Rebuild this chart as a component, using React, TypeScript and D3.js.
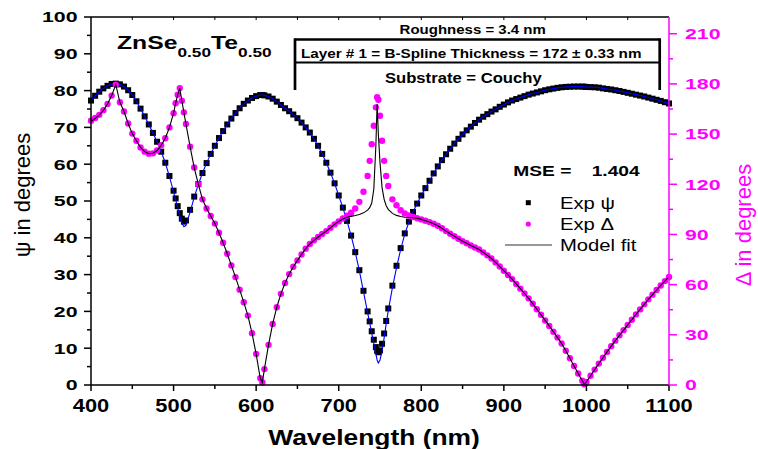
import React from 'react';
import * as d3 from 'd3';

// Wavelength grid (nm)
const WAVELENGTH = [
  400, 405, 410, 415, 420, 425, 430, 435, 440, 445, 450, 455, 460, 465, 470, 475, 480, 485, 490, 495, 500,
  502.5, 505, 507.5, 510, 512.5, 515,
  520, 525, 530, 535, 540, 545, 550, 555, 560, 565, 570, 575, 580, 585, 590, 595, 600, 605,
  607.5,
  610, 615, 620, 625, 630, 635, 640, 645, 650, 655, 660, 665, 670, 675, 680, 685, 690, 695, 700, 705, 710, 715, 720, 725, 730, 735,
  737.5, 740, 742.5, 745, 746.5, 748, 750, 752.5, 755, 757.5, 760,
  765, 770, 775, 780, 785, 790, 795, 800,
  805, 810, 815, 820, 825, 830, 835, 840, 845, 850,
  855, 860, 865, 870, 875, 880, 885, 890, 895, 900,
  905, 910, 915, 920, 925, 930, 935, 940, 945, 950,
  955, 960, 965, 970, 975, 980, 985, 990, 995,
  997.5,
  1000, 1005, 1010, 1015, 1020, 1025, 1030, 1035, 1040, 1045, 1050, 1055, 1060, 1065, 1070, 1075, 1080, 1085, 1090, 1095, 1100,
];

// Experimental psi (deg)
const PSI_EXP = [
  77.3, 78.6, 79.7, 80.6, 81.3, 81.8, 81.9, 81.7, 81.1, 80.1, 78.8, 77.1, 75.1, 73, 70.8, 68.5, 66.1, 63.4, 60.4, 56.8, 52.8,
  50.7, 48.6, 46.7, 45.2, 44.4, 44.7,
  47.6, 51.2, 54.6, 57.6, 60.3, 62.8, 65, 67.1, 69, 70.8, 72.4, 73.9, 75.2, 76.4, 77.3, 78, 78.5, 78.8,
  78.8,
  78.7, 78.4, 77.8, 77, 76.1, 75.2, 74.4, 73.5, 72.5, 71.3, 70, 68.6, 66.9, 65, 62.8, 60.4, 57.7, 54.8, 51.5, 48.2, 44.6, 40.6, 36.1, 31.2, 25.6, 20,
  17.3, 14.6, 12.3, 10.3, 9.3, 8.9, 9.4, 11.2, 14, 17.4, 20.8,
  27, 32.4, 37.2, 41.2, 44.4, 47, 49.3, 51.5,
  53.5, 55.5, 57.5, 59.4, 61.1, 62.7, 64.2, 65.6, 66.9, 68.1,
  69.2, 70.2, 71.2, 72.1, 72.9, 73.6, 74.3, 74.9, 75.6, 76.2,
  76.8, 77.3, 77.7, 78.1, 78.5, 78.9, 79.2, 79.5, 79.8, 80.1,
  80.35, 80.55, 80.75, 80.9, 81, 81.05, 81.1, 81.1, 81.1,
  81.05,
  81, 80.95, 80.9, 80.8, 80.6, 80.45, 80.3, 80.1, 79.9, 79.65, 79.4, 79.15, 78.9, 78.65, 78.4, 78.1, 77.8, 77.5, 77.2, 76.85, 76.5,
];

// Model psi (deg)
const PSI_FIT = [
  77.3, 78.6, 79.7, 80.6, 81.3, 81.8, 81.9, 81.7, 81.1, 80.1, 78.8, 77.1, 75.1, 73, 70.8, 68.5, 66.1, 63.4, 60.4, 56.6, 52.5,
  50.4, 48.2, 45.9, 44, 43, 43.4,
  47, 51, 54.5, 57.6, 60.3, 62.8, 65, 67.1, 69, 70.8, 72.4, 73.9, 75.2, 76.4, 77.3, 78, 78.5, 78.8,
  78.8,
  78.7, 78.4, 77.8, 77, 76.1, 75.2, 74.4, 73.5, 72.5, 71.3, 70, 68.6, 66.9, 65, 62.8, 60.4, 57.7, 54.8, 51.5, 48.2, 44.6, 40.6, 36.1, 31.1, 25.4, 19.6,
  17, 14, 11.3, 8.6, 6.8, 6, 6.8, 9.2, 12.8, 16.6, 20.2,
  26.4, 31.9, 36.8, 41, 44.3, 47, 49.3, 51.5,
  53.5, 55.5, 57.5, 59.4, 61.1, 62.7, 64.2, 65.6, 66.9, 68.1,
  69.2, 70.2, 71.2, 72.1, 72.9, 73.6, 74.3, 74.9, 75.6, 76.2,
  76.8, 77.3, 77.7, 78.1, 78.5, 78.9, 79.2, 79.5, 79.8, 80.1,
  80.35, 80.55, 80.75, 80.9, 81, 81.05, 81.1, 81.1, 81.1,
  81.05,
  81, 80.95, 80.9, 80.8, 80.6, 80.45, 80.3, 80.1, 79.9, 79.65, 79.4, 79.15, 78.9, 78.65, 78.4, 78.1, 77.8, 77.5, 77.2, 76.85, 76.5,
];

// Experimental delta (deg)
const DELTA_EXP = [
  158, 159.6, 161.5, 164.3, 168, 173, 179.5, 169, 163.5, 156.3, 150.3, 146, 142, 139.5, 138.3, 138.5, 140.2, 143.3, 147.5, 154, 162.5,
  168.5, 173.5, 177.5, 170, 163, 156,
  142.5, 130, 120, 111, 105.5, 101, 96.5, 91, 85, 78.5, 71.5, 64.5, 57, 49.5, 41.5, 31, 18.5, 4,
  1.5,
  9.5, 24, 36.5, 46.5, 54.5, 61, 66.3, 70.7, 74.5, 78, 81.5, 84.3, 86.5, 88.5, 90.3, 92, 94, 96, 97.8, 99.5, 101.2, 103, 105.5, 109.5, 115.5, 125,
  134, 144, 155, 166, 172, 170.5, 161, 146, 134, 125, 119,
  111, 107.5, 104.5, 102.6, 101.3, 100.4, 99.7, 99,
  98.2, 97.4, 96.4, 95.2, 93.7, 92, 90.4, 89, 87.4, 86,
  84.7, 83.4, 82.2, 81, 79.3, 77.5, 75.6, 73.3, 70.8, 68.3,
  65.8, 63.3, 60.4, 57.6, 54.7, 51.8, 48.6, 45.3, 42, 38.6,
  35.3, 31.8, 28.4, 24.8, 20.5, 16, 11.4, 6.9, 2.5,
  0.4,
  1.8, 5.5, 9.2, 12.8, 16.3, 19.8, 23.2, 26.5, 29.7, 32.8, 35.9, 39, 42.2, 45.2, 48.2, 51.2, 54, 56.8, 59.5, 62.1, 64.6,
];

// Model delta (deg)
const DELTA_FIT = [
  157.5, 159.3, 161.3, 164.2, 168, 173, 179.5, 169, 163.5, 156.3, 150.3, 146, 142, 139.5, 138.3, 138.5, 140.2, 143.3, 147.5, 154, 162.5,
  168.5, 173.5, 177.5, 170, 163, 156,
  142.5, 130, 120, 111, 105.5, 101, 96.5, 91, 85, 78.5, 71.5, 64.5, 57, 49.5, 41.5, 31, 18.5, 4,
  1.5,
  9.5, 24, 36.5, 46.5, 54.5, 61, 66.3, 70.7, 74.5, 78, 81.5, 84.3, 86.5, 88.5, 90.3, 92, 94, 96, 97.8, 99.3, 100.3, 100.8, 101.3, 101.9, 102.9, 104.5,
  106, 108.8, 117, 143, 168, 150, 133, 118, 111, 107.2, 105,
  102.6, 101.4, 100.7, 100.3, 100.1, 100, 99.7, 99,
  98.2, 97.4, 96.4, 95.2, 93.7, 92, 90.4, 89, 87.4, 86,
  84.7, 83.4, 82.2, 81, 79.3, 77.5, 75.6, 73.3, 70.8, 68.3,
  65.8, 63.3, 60.4, 57.6, 54.7, 51.8, 48.6, 45.3, 42, 38.6,
  35.3, 31.8, 28.4, 24.8, 20.5, 16, 11.4, 6.9, 2.5,
  0.4,
  1.8, 5.5, 9.2, 12.8, 16.3, 19.8, 23.2, 26.5, 29.7, 32.8, 35.9, 39, 42.2, 45.2, 48.2, 51.2, 54, 56.8, 59.5, 62.1, 64.6,
];

const X_TICKS = [400, 500, 600, 700, 800, 900, 1000, 1100];
const X_MINOR = [450, 550, 650, 750, 850, 950, 1050];
const PSI_TICKS = [0, 10, 20, 30, 40, 50, 60, 70, 80, 90, 100];
const DELTA_TICKS = [0, 30, 60, 90, 120, 150, 180, 210];

const FONT = "'Liberation Sans', Arial, Helvetica, sans-serif";
const MAGENTA = '#ff00ff';

function SText({ x, y, sx = 1, size, bold = true, anchor = 'start', fill = '#000', rotate = 0, children }: any) {
  const t = `translate(${x},${y})${rotate ? ` rotate(${rotate})` : ''} scale(${sx},1)`;
  return (
    <text transform={t} fontFamily={FONT} fontSize={size} fontWeight={bold ? 'bold' : 'normal'} textAnchor={anchor} fill={fill}>
      {children}
    </text>
  );
}

export default function App() {
  const W = 758, H = 449;
  const x = d3.scaleLinear().domain([400, 1100]).range([91, 669]);
  const yL = d3.scaleLinear().domain([0, 100]).range([385, 17]);
  const yR = d3.scaleLinear().domain([0, 220]).range([385, 17]);

  const psiExp = WAVELENGTH.map((w, i) => [w, PSI_EXP[i]]);
  const psiFit = WAVELENGTH.map((w, i) => [w, PSI_FIT[i]]);
  const dExp = WAVELENGTH.map((w, i) => [w, DELTA_EXP[i]]);
  const dFit = WAVELENGTH.map((w, i) => [w, DELTA_FIT[i]]);

  const linePsi = d3.line<number[]>().x(d => x(d[0])).y(d => yL(d[1]));
  const lineDelta = d3.line<number[]>().x(d => x(d[0])).y(d => yR(d[1]));

  const left = x(400), right = x(1100), top = yL(100), bottom = yL(0);
  const psiMinor = d3.range(5, 100, 10);
  const deltaMinor = d3.range(15, 220, 30);
  const topTicks = d3.range(450, 1100, 50);
  const sq = 6;

  return (
    <svg width={W} height={H} style={{ position: 'absolute', left: 0, top: 0, background: '#fff' }}>
      <rect x={0} y={0} width={W} height={H} fill="#fff" />

      {/* psi data squares */}
      <g fill="#000">
        {psiExp.map((d, i) => (
          <rect key={i} x={x(d[0]) - sq / 2} y={yL(d[1]) - sq / 2} width={sq} height={sq} />
        ))}
      </g>
      <path d={linePsi(psiFit) || ''} fill="none" stroke="#0000ff" strokeWidth={1.1} />

      {/* delta data dots */}
      <g fill={MAGENTA}>
        {dExp.map((d, i) => (
          <circle key={i} cx={x(d[0])} cy={yR(d[1])} r={3.2} />
        ))}
      </g>
      <path d={lineDelta(dFit) || ''} fill="none" stroke="#000" strokeWidth={1.1} />

      {/* axes frame */}
      <line x1={left} y1={top} x2={right} y2={top} stroke="#000" strokeWidth={1.5} />
      <line x1={left} y1={bottom} x2={right} y2={bottom} stroke="#000" strokeWidth={1.5} />
      <line x1={left} y1={top} x2={left} y2={bottom} stroke="#000" strokeWidth={1.5} />
      <line x1={right} y1={top} x2={right} y2={bottom} stroke={MAGENTA} strokeWidth={1.5} />

      {/* top ticks */}
      {topTicks.map(t => (
        <line key={'tt' + t} x1={x(t)} y1={top} x2={x(t)} y2={top + 3} stroke="#000" strokeWidth={1} />
      ))}

      {/* bottom ticks */}
      {X_TICKS.map(t => (
        <g key={'x' + t}>
          <line x1={x(t)} y1={bottom} x2={x(t)} y2={bottom + 6} stroke="#000" strokeWidth={1.5} />
          <SText x={x(t)} y={411.5} size={17.5} sx={1.25} anchor="middle">{t}</SText>
        </g>
      ))}
      {X_MINOR.map(t => (
        <line key={'xm' + t} x1={x(t)} y1={bottom} x2={x(t)} y2={bottom + 4} stroke="#000" strokeWidth={1.5} />
      ))}

      {/* left ticks */}
      {PSI_TICKS.map(t => (
        <g key={'y' + t}>
          <line x1={left - 7} y1={yL(t)} x2={left} y2={yL(t)} stroke="#000" strokeWidth={1.5} />
          <SText x={77.5} y={yL(t) + 5.3} size={15} sx={1.42} anchor="end">{t}</SText>
        </g>
      ))}
      {psiMinor.map(t => (
        <line key={'ym' + t} x1={left - 4} y1={yL(t)} x2={left} y2={yL(t)} stroke="#000" strokeWidth={1.5} />
      ))}

      {/* right ticks */}
      {DELTA_TICKS.map(t => (
        <g key={'r' + t}>
          <line x1={right} y1={yR(t)} x2={right + 8} y2={yR(t)} stroke={MAGENTA} strokeWidth={1.5} />
          <SText x={685} y={yR(t) + 5.3} size={15} sx={1.42} fill={MAGENTA}>{t}</SText>
        </g>
      ))}
      {deltaMinor.map(t => (
        <line key={'rm' + t} x1={right} y1={yR(t)} x2={right + 4} y2={yR(t)} stroke={MAGENTA} strokeWidth={1.5} />
      ))}

      {/* axis titles */}
      <SText x={374} y={445} size={22} sx={1.2} anchor="middle">Wavelength (nm)</SText>
      <SText x={29.5} y={195} size={22} bold={false} anchor="middle" rotate={-90}>ψ in degrees</SText>
      <SText x={751} y={225} size={22} bold={false} anchor="middle" rotate={-90} fill={MAGENTA}>Δ in degrees</SText>

      {/* sample title */}
      <SText x={117} y={49} size={18.6} sx={1.33}>
        ZnSe<tspan fontSize={13} dy={7.5}>0.50</tspan><tspan dy={-7.5}>Te</tspan><tspan fontSize={13} dy={7.5}>0.50</tspan>
      </SText>

      {/* layer structure box */}
      <SText x={472.7} y={34} size={12.5} sx={1.2} anchor="middle">Roughness = 3.4 nm</SText>
      <SText x={471.2} y={58.3} size={12.5} sx={1.22} anchor="middle">Layer # 1 = B-Spline Thickness = 172 ± 0.33 nm</SText>
      <SText x={463.3} y={82.7} size={14} sx={1.19} anchor="middle">Substrate = Couchy</SText>
      <g stroke="#000" fill="none">
        <line x1={295} y1={39.5} x2={659.7} y2={39.5} strokeWidth={2.6} />
        <line x1={295} y1={62.5} x2={659.7} y2={62.5} strokeWidth={2} />
        <line x1={295} y1={38.3} x2={295} y2={90} strokeWidth={2.7} />
        <line x1={659.7} y1={38.3} x2={659.7} y2={90} strokeWidth={2.7} />
      </g>

      {/* MSE */}
      <SText x={513.3} y={176} size={14} sx={1.37}>MSE =</SText>
      <SText x={591.7} y={176} size={14} sx={1.37}>1.404</SText>

      {/* legend */}
      <rect x={528.3 - 2.5} y={202.7 - 2.5} width={5} height={5} fill="#000" />
      <SText x={560} y={209} size={17} sx={1.19} bold={false}>Exp ψ</SText>
      <circle cx={528.3} cy={224} r={2.6} fill={MAGENTA} />
      <SText x={560} y={230} size={17} sx={1.19} bold={false}>Exp Δ</SText>
      <line x1={505} y1={245} x2={552} y2={245} stroke="#333" strokeWidth={1.2} />
      <SText x={560} y={251} size={17} sx={1.19} bold={false}>Model fit</SText>
    </svg>
  );
}
